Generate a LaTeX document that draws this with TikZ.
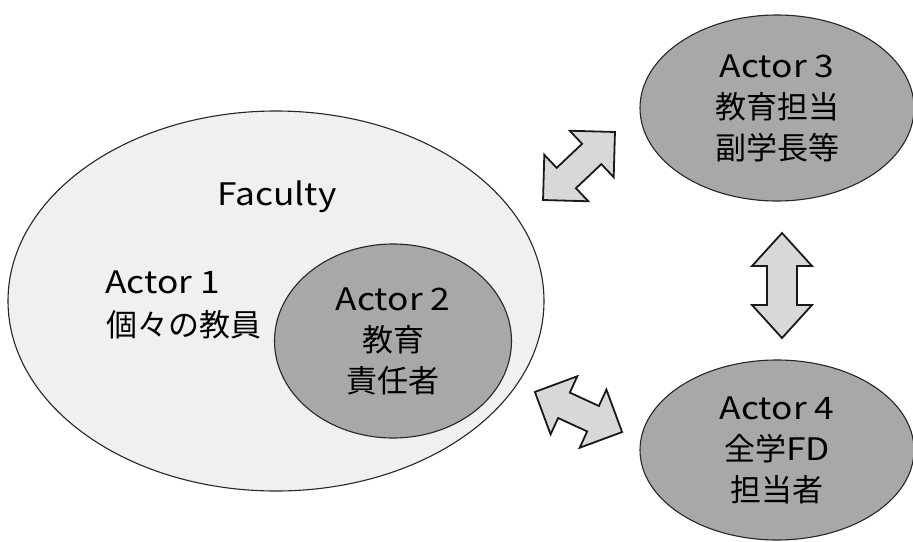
\documentclass[tikz,border=0pt]{standalone}
\usepackage{fontspec}
\setmainfont{Noto Sans CJK JP}
\newfontfamily\latfont[FakeStretch=1.14]{Noto Sans CJK JP}
\usetikzlibrary{shapes.geometric}
\definecolor{facfill}{RGB}{240,240,240}
\definecolor{actfill}{RGB}{168,168,168}
\definecolor{arrfill}{RGB}{216,216,216}
\tikzset{
  faculty/.style={ellipse, draw=black!85, line width=1.1pt, fill=facfill, inner sep=0pt},
  actor/.style={ellipse, draw=black!85, line width=1.1pt, fill=actfill, inner sep=0pt,
    align=center, font=\fontsize{31}{41}\selectfont},
  lbl/.style={font=\fontsize{31}{41}\selectfont, inner sep=0pt},
  blockarrow/.style={draw=black!90, line width=1.8pt, fill=arrfill, line join=miter}
}
% double block arrow: #1 centre, #2 angle, #3 half length, #4 head length, #5 head half width, #6 shaft half width, #7 name
\newcommand\dblarrow[7]{%
  \begin{scope}[shift={#1}, rotate=#2]
    \draw[blockarrow] (-#3,0) -- (-#3+#4,#5) -- (-#3+#4,#6) -- (#3-#4,#6) -- (#3-#4,#5)
      -- (#3,0) -- (#3-#4,-#5) -- (#3-#4,-#6) -- (-#3+#4,-#6) -- (-#3+#4,-#5) -- cycle;
    \coordinate (#7) at (0,0);
  \end{scope}}
\begin{document}
\begin{tikzpicture}[x=1pt, y=-1pt]
  \useasboundingbox (0,0) rectangle (913,541);
  % Faculty
  \node[faculty, minimum width=536pt, minimum height=380pt] (fac) at (276,301) {};
  \node[lbl, anchor=base] (facl) at (277,205) {\latfont Faculty};
  \node[lbl, anchor=base west] (a1a) at (105,293) {\latfont Actor 1};
  \node[lbl, anchor=base west] (a1b) at (106,336) {個々の教員};
  % Actor 2
  \node[actor, minimum width=237pt, minimum height=194pt] (a2) at (393,341) {{\latfont Actor 2}\\教育\\責任者};
  % Actor 3
  \node[actor, minimum width=274pt, minimum height=186pt] (a3) at (777,108) {{\latfont Actor 3}\\教育担当\\副学長等};
  % Actor 4
  \node[actor, minimum width=274pt, minimum height=180pt] (a4) at (777,450) {{\latfont Actor 4}\\全学{\latfont FD}\\担当者};
  % arrows
  \dblarrow{(579,166)}{43.4}{49.5}{32}{32}{14}{arrA}
  \dblarrow{(578.5,412)}{-24.7}{48}{32}{32}{14}{arrB}
  \dblarrow{(782,285.5)}{90}{52.5}{33}{30}{15}{arrC}
\end{tikzpicture}
\end{document}
